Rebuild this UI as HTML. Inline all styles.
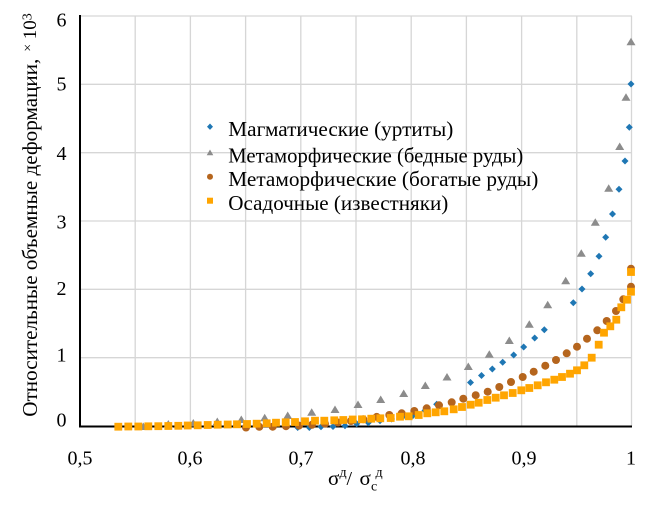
<!DOCTYPE html>
<html><head><meta charset="utf-8">
<style>
html,body{margin:0;padding:0;background:#fff;}
svg{display:block;}
text{font-family:"Liberation Serif","Noto Serif CJK SC",serif;fill:#000;}
</style></head>
<body>
<svg width="659" height="505" viewBox="0 0 659 505" xmlns="http://www.w3.org/2000/svg">
<defs>
<marker id="md" markerUnits="userSpaceOnUse" markerWidth="8" markerHeight="8" refX="4" refY="4" orient="0" overflow="visible"><path d="M4 0.5L7.5 4L4 7.5L0.5 4Z" fill="#1f77b4"/></marker>
<marker id="mt" markerUnits="userSpaceOnUse" markerWidth="10" markerHeight="10" refX="5" refY="5" orient="0" overflow="visible"><path d="M5 1.2L9.5 8.7L0.5 8.7Z" fill="#8c8c8c"/></marker>
<marker id="mc" markerUnits="userSpaceOnUse" markerWidth="8" markerHeight="8" refX="4" refY="4" orient="0" overflow="visible"><circle cx="4" cy="4" r="4" fill="#b5651d"/></marker>
<marker id="ms" markerUnits="userSpaceOnUse" markerWidth="8" markerHeight="8" refX="3.9" refY="3.9" orient="0" overflow="visible"><rect x="0" y="0" width="7.8" height="7.8" fill="#ffa500"/></marker>
</defs>
<rect width="659" height="505" fill="#fff"/>
<g stroke="#d6d6d6" stroke-width="1.3">
<path d="M135.2 16V426M190.4 16V426M245.6 16V426M300.8 16V426M356 16V426M411.2 16V426M466.4 16V426M521.6 16V426M576.8 16V426M631.5 16V426M80 16H632M80 84.3H632M80 152.7H632M80 221H632M80 289.3H632M80 357.7H632" fill="none"/>
</g>
<g stroke="#000" stroke-width="2">
<line x1="80" y1="15" x2="80" y2="427.5"/>
<line x1="79" y1="426.5" x2="632" y2="426.5"/>
</g>

<g font-size="20" text-anchor="middle">
<text x="61.5" y="26.7">6</text>
<text x="61.5" y="90.5">5</text>
<text x="61.5" y="159.8">4</text>
<text x="61.5" y="228.3">3</text>
<text x="61.5" y="295">2</text>
<text x="61.5" y="361.7">1</text>
<text x="61.5" y="426.7">0</text>
<text x="80" y="464.5">0,5</text>
<text x="190" y="464.5">0,6</text>
<text x="301" y="464.5">0,7</text>
<text x="413" y="464.5">0,8</text>
<text x="524" y="464.5">0,9</text>
<text x="631" y="464.5">1</text>
</g>

<text x="328" y="485" font-size="21">σ</text>
<text x="339.5" y="476.5" font-size="14">д</text>
<text x="346.5" y="485" font-size="20">/</text>
<text x="359.5" y="485" font-size="21">σ</text>
<text x="371" y="490.5" font-size="14">с</text>
<text x="375.5" y="476.5" font-size="14">д</text>

<g transform="translate(37,416.7) rotate(-90)">
<text x="0" y="0" font-size="21" textLength="358" lengthAdjust="spacingAndGlyphs">Относительные объемные деформации,</text>
<text x="365" y="-5" font-size="14">×</text>
<text x="377.5" y="-1" font-size="19">10</text>
<text x="396.5" y="-5.5" font-size="14">3</text>
</g>

<polyline fill="none" stroke="none" marker-start="url(#md)" marker-mid="url(#md)" marker-end="url(#md)" points="297.7,427.5 309.3,427.5 321,426.8 333,426.5 345,425.8 356.7,423.8 368.3,422.7 380,420.7 391.5,419 402.5,417 413,415.5 425,410.5 436.7,404.3 470.5,382.5 481.5,375.5 492.3,369 502.7,362.3 513.7,355 523.7,347 534.7,338 544.3,329.7 573.3,302.7 582,289 590.7,273.7 599,256.3 605.7,237.3 612.5,214 619,189.3 625,161 629.3,127.3 631,84"/>

<polyline fill="none" stroke="none" marker-start="url(#mt)" marker-mid="url(#mt)" marker-end="url(#mt)" points="143.3,426.3 168.3,423.8 193.3,422.8 217.3,421.3 241.3,419.3 264.7,417.6 287.7,415.3 311.7,412 335,409.3 358,404.3 380.7,399.3 403.7,393.3 425.3,385.3 447,376.8 468.3,366.3 489.3,354 509.3,340.3 529.3,324 547.7,304.6 565.7,280.6 581.3,253 595.3,222 608.7,188 619.7,146.3 626,97 631,41.6"/>

<polyline fill="none" stroke="none" marker-start="url(#mc)" marker-mid="url(#mc)" marker-end="url(#mc)" points="246,427.5 259.3,426.8 272.7,426.7 286,426.2 299,425.6 312,424.8 325,423.7 338,422.5 351,421 363.3,419.3 376.7,416.9 389.3,415 401.7,413.3 414.3,411 426.7,408.3 439,405.3 451.7,402.3 463.3,398.7 475.7,395.2 487.7,391.7 499.3,387 511,382 522.7,377 533.7,371.7 545.3,365.7 556,360 566.7,353.3 577,346.7 587,338.7 597.3,330.3 606.7,321 616,311 623.3,299.3 631,286.7 631,268.7"/>

<polyline fill="none" stroke="none" marker-start="url(#ms)" marker-mid="url(#ms)" marker-end="url(#ms)" points="118.3,426.7 128.3,426.5 138.3,426.5 148.3,426.3 158.3,426.2 168.3,426 178.3,425.8 187.7,425.5 197.7,425.3 207.7,425 217.7,424.7 227.7,424.5 237,424.3 247,424 256.7,423.7 266.7,423.3 276,422.7 285.7,422.3 295,422 305,421.3 315,420.7 324.3,420.7 334.3,420.3 343.3,420 352.7,419.5 362,419.3 371.3,418.7 380.3,418.3 390.7,418 400,416.7 408.7,416.3 418.7,415 427.3,413.3 435.7,412.3 444.3,411.3 453.7,409.3 462,407 470.7,404.7 478.7,402.7 487.3,400 495.7,397.7 504,395.3 512.7,393 521.3,390.3 529.3,388 537.7,385.3 546,382.3 554.3,379.7 562,377 570,373.7 577,370.3 584.3,365.3 591.7,357.7 598.7,344.7 604,332.7 610.3,326.3 616.3,319.7 621.3,307.3 627,299.7 631,291.7 631,272"/>

<path d="M210 123.5L213 126.7L210 129.9L207 126.7Z" fill="#1f77b4"/>
<path d="M210 149.5L213.3 155.3L206.7 155.3Z" fill="#8c8c8c"/>
<circle cx="210" cy="176.7" r="3" fill="#b5651d"/>
<rect x="207" y="197.7" width="6" height="6" fill="#ffa500"/>
<g font-size="21">
<text x="228.3" y="136" textLength="225" lengthAdjust="spacingAndGlyphs">Магматические (уртиты)</text>
<text x="228.3" y="162.5" textLength="295" lengthAdjust="spacingAndGlyphs">Метаморфические (бедные руды)</text>
<text x="228.3" y="186" textLength="310" lengthAdjust="spacingAndGlyphs">Метаморфические (богатые руды)</text>
<text x="228.3" y="210" textLength="220" lengthAdjust="spacingAndGlyphs">Осадочные (известняки)</text>
</g>
</svg>
</body></html>
